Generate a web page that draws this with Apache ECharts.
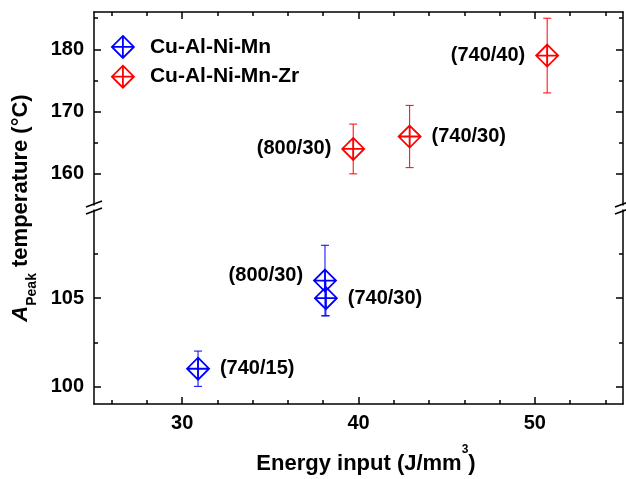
<!DOCTYPE html>
<html>
<head>
<meta charset="utf-8">
<script src="https://cdn.jsdelivr.net/npm/echarts@6/dist/echarts.min.js"></script>
<style>
html, body { margin: 0; padding: 0; background: #fff; }
#chart { width: 626px; height: 479px; }
</style>
</head>
<body>
<div id="chart"></div>
<script>
/* ===================== data ===================== */
var xTicks = [30, 40, 50];
var yTicksTop = [160, 170, 180];
var yTicksBottom = [100, 105];

// Cu-Al-Ni-Mn
var blueLabels = ['(740/15)', '(800/30)', '(740/30)'];
var blueEnergy = [30.9, 38.1, 38.15];
var blueTemp = [101, 106, 105];
var blueErr = [1, 2, 1];

// Cu-Al-Ni-Mn-Zr
var redLabels = ['(800/30)', '(740/30)', '(740/40)'];
var redEnergy = [39.7, 42.9, 50.7];
var redTemp = [164, 166, 179];
var redErr = [4, 5, 6];
/* ===================== end ===================== */

var FONT = '"Liberation Sans", Arial, sans-serif';
var BLUE = '#0000ff';
var RED = '#ff0000';
var LINE = '#000';
var markPath = 'path://M11,0 L22,11 L11,22 L0,11 Z M11,0 L11,22 M0,11 L22,11';

// label side per point (style only)
var blueSide = ['right', 'left', 'right'];
var blueShift = [0, -5, 0];
var redSide = ['left', 'right', 'left'];

function xAxisOf(gridIndex, position, withLabel) {
    return {
        type: 'value', gridIndex: gridIndex, position: position,
        min: 25, max: 55, splitNumber: 3,
        axisLine: { show: true, lineStyle: { color: LINE, width: 1.5 } },
        axisTick: { show: true, inside: true, length: 7, customValues: xTicks, lineStyle: { color: LINE, width: 1.5 } },
        minorTick: { show: true, splitNumber: 5, length: 4, lineStyle: { color: LINE, width: 1.5 } },
        axisLabel: {
            show: withLabel, customValues: xTicks, margin: 9,
            color: '#000', fontFamily: FONT, fontWeight: 'bold', fontSize: 20
        },
        splitLine: { show: false }
    };
}

function yAxisOf(gridIndex, position, min, max, split, ticks, withLabel) {
    return {
        type: 'value', gridIndex: gridIndex, position: position,
        min: min, max: max, splitNumber: split,
        axisLine: { show: true, lineStyle: { color: LINE, width: 1.5 } },
        axisTick: { show: true, inside: true, length: 7, customValues: ticks, lineStyle: { color: LINE, width: 1.5 } },
        minorTick: { show: true, splitNumber: 2, length: 4, lineStyle: { color: LINE, width: 1.5 } },
        axisLabel: {
            show: withLabel, customValues: ticks, margin: 10,
            color: '#000', fontFamily: FONT, fontWeight: 'bold', fontSize: 20
        },
        splitLine: { show: false }
    };
}

function pointsOf(energy, temp, labels, side, shift) {
    return energy.map(function (x, i) {
        return {
            value: [x, temp[i]],
            label: {
                show: true, formatter: labels[i], position: side[i], distance: 10,
                offset: [0, shift ? shift[i] : 0]
            }
        };
    });
}

function barsOf(energy, temp, err) {
    return energy.map(function (x, i) {
        return [x, temp[i] - err[i], temp[i] + err[i]];
    });
}

function renderErr(params, api) {
    var x = api.value(0);
    var lo = api.coord([x, api.value(1)]);
    var hi = api.coord([x, api.value(2)]);
    var w = 4;
    var style = { stroke: api.visual('color'), lineWidth: 1 };
    return {
        type: 'group',
        children: [
            { type: 'line', shape: { x1: hi[0], y1: hi[1], x2: lo[0], y2: lo[1] }, style: style },
            { type: 'line', shape: { x1: hi[0] - w, y1: hi[1], x2: hi[0] + w, y2: hi[1] }, style: style },
            { type: 'line', shape: { x1: lo[0] - w, y1: lo[1], x2: lo[0] + w, y2: lo[1] }, style: style }
        ]
    };
}

var labelStyle = { color: '#000', fontFamily: FONT, fontWeight: 'bold', fontSize: 20 };

function slash(x, y) {
    return {
        type: 'line', shape: { x1: x - 8, y1: y + 3, x2: x + 8, y2: y - 3 },
        style: { stroke: LINE, lineWidth: 1.5 }, z: 100
    };
}

var option = {
    backgroundColor: '#fff',
    animation: false,
    grid: [
        { left: 94, right: 3, top: 12, height: 193 },
        { left: 94, right: 3, top: 210, height: 194 },
        { left: 94, right: 3, top: 12, height: 392 }
    ],
    xAxis: [
        xAxisOf(0, 'top', false),
        (function () {
            var ax = xAxisOf(1, 'bottom', true);
            ax.name = '{a|Energy input (J/mm}{s|3}{a|)}';
            ax.nameLocation = 'middle';
            ax.nameGap = 38;
            ax.nameTextStyle = {
                padding: [0, 0, 0, 15],
                rich: {
                    a: { fontFamily: FONT, fontWeight: 'bold', fontSize: 22, lineHeight: 44, color: '#000' },
                    s: { fontFamily: FONT, fontWeight: 'bold', fontSize: 12, lineHeight: 12, verticalAlign: 'top', padding: [2, 0, 0, 0], color: '#000' }
                }
            };
            return ax;
        })(),
        { type: 'value', gridIndex: 2, min: 0, max: 1, show: false }
    ],
    yAxis: [
        yAxisOf(0, 'left', 155, 186, 3, yTicksTop, true),
        yAxisOf(0, 'right', 155, 186, 3, yTicksTop, false),
        yAxisOf(1, 'left', 99, 110, 2, yTicksBottom, true),
        yAxisOf(1, 'right', 99, 110, 2, yTicksBottom, false),
        {
            type: 'value', gridIndex: 2, min: 0, max: 1,
            axisLine: { show: false }, axisTick: { show: false }, axisLabel: { show: false },
            splitLine: { show: false },
            name: '{i|A}{s|Peak}{a| temperature (°C)}',
            nameLocation: 'middle', nameGap: 55, nameRotate: 90,
            nameTextStyle: {
                rich: {
                    i: { fontFamily: FONT, fontWeight: 'bold', fontStyle: 'italic', fontSize: 22, lineHeight: 36, color: '#000' },
                    s: { fontFamily: FONT, fontWeight: 'bold', fontSize: 14, lineHeight: 14, verticalAlign: 'bottom', color: '#000' },
                    a: { fontFamily: FONT, fontWeight: 'bold', fontSize: 22, lineHeight: 36, color: '#000' }
                }
            }
        }
    ],
    legend: {
        orient: 'vertical', left: 106, top: 30,
        itemWidth: 44, itemHeight: 22, itemGap: 6,
        textStyle: { color: '#000', fontFamily: FONT, fontWeight: 'bold', fontSize: 21 },
        data: [
            { name: 'Cu-Al-Ni-Mn', icon: markPath, itemStyle: { color: 'rgba(0,0,0,0)', borderColor: BLUE, borderWidth: 1.8 } },
            { name: 'Cu-Al-Ni-Mn-Zr', icon: markPath, itemStyle: { color: 'rgba(0,0,0,0)', borderColor: RED, borderWidth: 1.8 } }
        ]
    },
    graphic: [
        slash(94, 204), slash(94, 211),
        slash(623, 204), slash(623, 211)
    ],
    series: [
        {
            name: 'err-blue', type: 'custom', xAxisIndex: 1, yAxisIndex: 2,
            itemStyle: { color: BLUE }, renderItem: renderErr,
            data: barsOf(blueEnergy, blueTemp, blueErr), z: 1, silent: true
        },
        {
            name: 'err-red', type: 'custom', xAxisIndex: 0, yAxisIndex: 0,
            itemStyle: { color: RED }, renderItem: renderErr,
            data: barsOf(redEnergy, redTemp, redErr), z: 1, silent: true
        },
        {
            name: 'Cu-Al-Ni-Mn', type: 'scatter', xAxisIndex: 1, yAxisIndex: 2,
            symbol: markPath, symbolSize: 22,
            itemStyle: { color: 'rgba(0,0,0,0)', borderColor: BLUE, borderWidth: 1.8, opacity: 1 },
            label: labelStyle,
            data: pointsOf(blueEnergy, blueTemp, blueLabels, blueSide, blueShift), z: 2
        },
        {
            name: 'Cu-Al-Ni-Mn-Zr', type: 'scatter', xAxisIndex: 0, yAxisIndex: 0,
            symbol: markPath, symbolSize: 22,
            itemStyle: { color: 'rgba(0,0,0,0)', borderColor: RED, borderWidth: 1.8, opacity: 1 },
            label: labelStyle,
            data: pointsOf(redEnergy, redTemp, redLabels, redSide, null), z: 2
        }
    ]
};

var chart = echarts.init(document.getElementById('chart'));
chart.setOption(option);
</script>
</body>
</html>
